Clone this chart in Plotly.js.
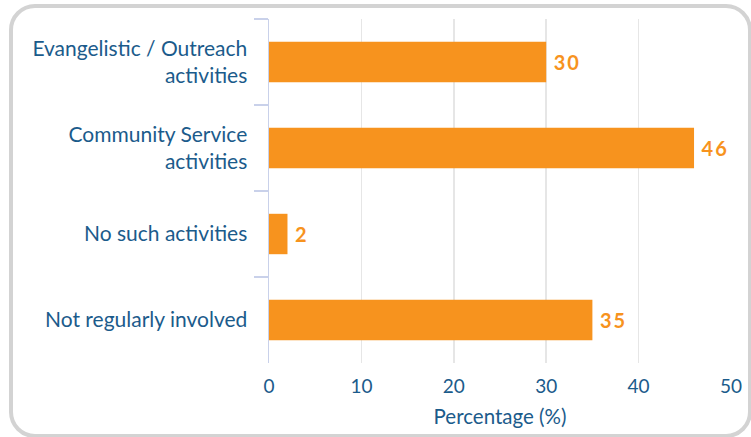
<!DOCTYPE html>
<html>
<head>
<meta charset="utf-8">
<script src="https://cdn.plot.ly/plotly-3.0.1.min.js"></script>
<style>
  html, body { margin: 0; padding: 0; background: #fff; }
  #wrap { position: relative; width: 751px; height: 437px; overflow: hidden; }
  #frame { position: absolute; left: 9px; top: 4px; width: 743px; height: 434px;
           border: 4px solid #d3d3d3; border-radius: 26px; box-sizing: border-box; }
  #chart { position: absolute; left: 0; top: 0; width: 751px; height: 437px; }
  text.bartext { letter-spacing: 2px; }
</style>
</head>
<body>
<div id="wrap">
  <div id="frame"></div>
  <div id="chart"></div>
</div>
<script>
const categories = [
  "Evangelistic / Outreach<br>activities",
  "Community Service<br>activities",
  "No such activities",
  "Not regularly involved"
];
const values = [30, 46, 2, 35];
const xTicks = [0, 10, 20, 30, 40, 50];
const xTitle = "Percentage (%)";

const blue = "#1b5b8b";
const orange = "#f7931e";

Plotly.newPlot("chart", [{
  type: "bar",
  orientation: "h",
  y: categories,
  x: values,
  marker: { color: orange },
  text: values.map(v => "\u2009" + v),
  textposition: "outside",
  cliponaxis: false,
  textfont: { family: "Lato", size: 20, color: orange, weight: "bold" },
  hoverinfo: "none"
}], {
  width: 751, height: 437,
  margin: { l: 269, r: 20, t: 19, b: 74 },
  paper_bgcolor: "rgba(0,0,0,0)",
  plot_bgcolor: "rgba(0,0,0,0)",
  bargap: 0.53,
  showlegend: false,
  font: { family: "Lato", color: blue },
  xaxis: {
    range: [0, 50],
    tickvals: xTicks,
    ticktext: xTicks.map(String),
    showgrid: true, gridcolor: "#e6e6e6", gridwidth: 1.5,
    zeroline: false, showline: false, ticks: "",
    ticklabelstandoff: 10,
    tickfont: { family: "Lato", size: 19, color: blue },
    title: { text: xTitle, font: { family: "Lato", size: 20.5, color: blue }, standoff: 13 },
    fixedrange: true
  },
  yaxis: {
    autorange: "reversed",
    showgrid: false, zeroline: false,
    showline: true, linecolor: "#c9d1ea", linewidth: 1.5,
    ticks: "outside", tickson: "boundaries", ticklen: 14, tickcolor: "#c9d1ea", tickwidth: 1.5,
    ticklabelstandoff: 16,
    tickfont: { family: "Lato", size: 21, color: blue },
    fixedrange: true
  }
}, { displayModeBar: false, staticPlot: true });
</script>
</body>
</html>
